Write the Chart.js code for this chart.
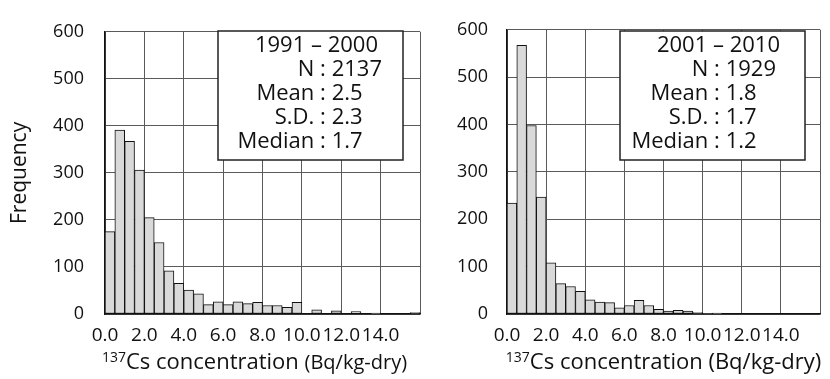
<!DOCTYPE html>
<html>
<head>
<meta charset="utf-8">
<script src="https://cdn.jsdelivr.net/npm/chart.js@4.4.0/dist/chart.umd.min.js"></script>
<style>
  html, body { margin: 0; padding: 0; background: #fff; }
  #wrap { position: relative; width: 830px; height: 379px; }
  .panel { position: absolute; top: 0; height: 379px; }
</style>
</head>
<body>
<div id="wrap">
  <div class="panel" style="left:0;width:430px"><canvas id="hist1991"></canvas></div>
  <div class="panel" style="left:430px;width:400px"><canvas id="hist2001"></canvas></div>
</div>
<script>
// bin starts (width 0.5 Bq/kg-dry)
const binLabels = ['0.0', '0.5', '1.0', '1.5', '2.0', '2.5', '3.0', '3.5', '4.0', '4.5', '5.0', '5.5', '6.0', '6.5', '7.0', '7.5',
                   '8.0', '8.5', '9.0', '9.5', '10.0', '10.5', '11.0', '11.5', '12.0', '12.5', '13.0', '13.5', '14.0', '14.5', '15.0', '15.5'];
const freq1991 = [175, 391, 367, 306, 205, 152, 92, 65, 51, 43, 20, 26, 20, 26, 22, 25,
                  18, 18, 14, 25, 0, 9, 0, 7, 0, 5, 0, 2, 0, 0, 0, 3];
const freq2001 = [234, 567, 398, 247, 108, 64, 58, 48, 30, 25, 24, 13, 18, 29, 18, 10,
                  6, 8, 6, 3, 1, 2, 0, 0, 0, 0, 0, 0, 0, 0, 0, 0];
const xTickValues = [0, 2, 4, 6, 8, 10, 12, 14, 16];
const yTickValues = [0, 100, 200, 300, 400, 500, 600];
const statNames = ['N', 'Mean', 'S.D.', 'Median'];
const stats1991 = ['2137', '2.5', '2.3', '1.7'];
const stats2001 = ['1929', '1.8', '1.7', '1.2'];

const FONT = '"Open Sans", sans-serif';

// white box with the period and summary statistics
const statBox = {
  id: 'statBox',
  afterDatasetsDraw(chart, args, opts) {
    const ctx = chart.ctx, a = chart.chartArea;
    const x0 = a.left + 113, y0 = 31, w = 185, h = 129;
    ctx.save();
    ctx.fillStyle = '#fff';
    ctx.fillRect(x0, y0, w, h);
    ctx.strokeStyle = '#222';
    ctx.lineWidth = 1.5;
    ctx.strokeRect(x0, y0, w, h);
    ctx.fillStyle = '#111';
    ctx.font = '22px ' + FONT;
    ctx.textBaseline = 'middle';
    ctx.textAlign = 'right';
    ctx.fillText(opts.title, a.left + 273, 46);
    const colonX = a.left + opts.colon;
    opts.values.forEach((v, i) => {
      const y = 70 + i * 24;
      ctx.textAlign = 'right';
      ctx.fillText(statNames[i] + ' ', colonX, y);
      ctx.textAlign = 'center';
      ctx.fillText(':', colonX + 3, y);
      ctx.textAlign = 'left';
      ctx.fillText(' ' + v, colonX + 6, y);
    });
    ctx.restore();
  }
};

// x axis title with superscript mass number
const xTitle = {
  id: 'xTitle',
  afterDraw(chart, args, opts) {
    const ctx = chart.ctx, a = chart.chartArea;
    const parts = [
      { t: '137', f: '14px ' + FONT, dy: -7 },
      { t: 'Cs concentration ', f: '22px ' + FONT, dy: 0 },
      { t: '(Bq/kg-dry)', f: opts.unitSize + 'px ' + FONT, dy: 0 }
    ];
    ctx.save();
    let total = 0;
    parts.forEach(p => { ctx.font = p.f; p.w = ctx.measureText(p.t).width; total += p.w; });
    let x = (a.left + a.right) / 2 + opts.shift - total / 2;
    ctx.fillStyle = '#111';
    ctx.textBaseline = 'alphabetic';
    ctx.textAlign = 'left';
    parts.forEach(p => { ctx.font = p.f; ctx.fillText(p.t, x, 369 + p.dy); x += p.w; });
    ctx.restore();
  }
};

function makeHist(id, data, title, values, opt) {
  return new Chart(document.getElementById(id), {
    type: 'bar',
    data: {
      labels: binLabels,
      datasets: [{
        data: data,
        backgroundColor: '#d9d9d9',
        borderColor: '#111',
        borderWidth: 1,
        borderSkipped: false,
        barPercentage: 1,
        categoryPercentage: 1
      }]
    },
    options: {
      responsive: true,
      maintainAspectRatio: false,
      animation: false,
      events: [],
      layout: { padding: { top: 19, right: opt.padRight, left: 0, bottom: 0 } },
      scales: {
        x: { type: 'category', display: false },
        x2: {
          type: 'linear', position: 'bottom', min: 0, max: 16, offset: false,
          afterBuildTicks: s => { s.ticks = xTickValues.map(v => ({ value: v })); },
          afterFit: s => { s.height = 65; },
          grid: { color: '#5a5a5a', lineWidth: 1, drawTicks: false, offset: false },
          border: { color: '#111', width: 1.5 },
          ticks: {
            padding: 10, color: '#111', maxRotation: 0, autoSkip: false,
            font: { family: FONT, size: 19 },
            callback: v => v === 16 ? '' : v.toFixed(1)
          }
        },
        y: {
          min: 0, max: 600,
          afterBuildTicks: s => { s.ticks = yTickValues.map(v => ({ value: v })); },
          afterFit: s => { s.width = opt.yWidth; },
          grid: { color: '#5a5a5a', lineWidth: 1, drawTicks: false },
          border: { color: '#111', width: 1.5 },
          ticks: { padding: opt.yPad, color: '#111', font: { family: FONT, size: 18 } },
          title: {
            display: opt.yTitle, text: 'Frequency', color: '#111',
            font: { family: FONT, size: 21 }, padding: { top: 7, bottom: 0 }
          }
        }
      },
      plugins: {
        legend: { display: false },
        tooltip: { enabled: false },
        statBox: { title: title, values: values, colon: opt.colon },
        xTitle: { shift: opt.titleShift, unitSize: opt.unitSize }
      }
    },
    plugins: [statBox, xTitle]
  });
}

makeHist('hist1991', freq1991, '1991 – 2000', stats1991,
  { padRight: 5, yWidth: 105, yPad: 21, yTitle: true, titleShift: -8, unitSize: 20, colon: 215 });
makeHist('hist2001', freq2001, '2001 – 2010', stats2001,
  { padRight: 3, yWidth: 77, yPad: 19, yTitle: false, titleShift: 0, unitSize: 22, colon: 207 });
</script>
</body>
</html>
